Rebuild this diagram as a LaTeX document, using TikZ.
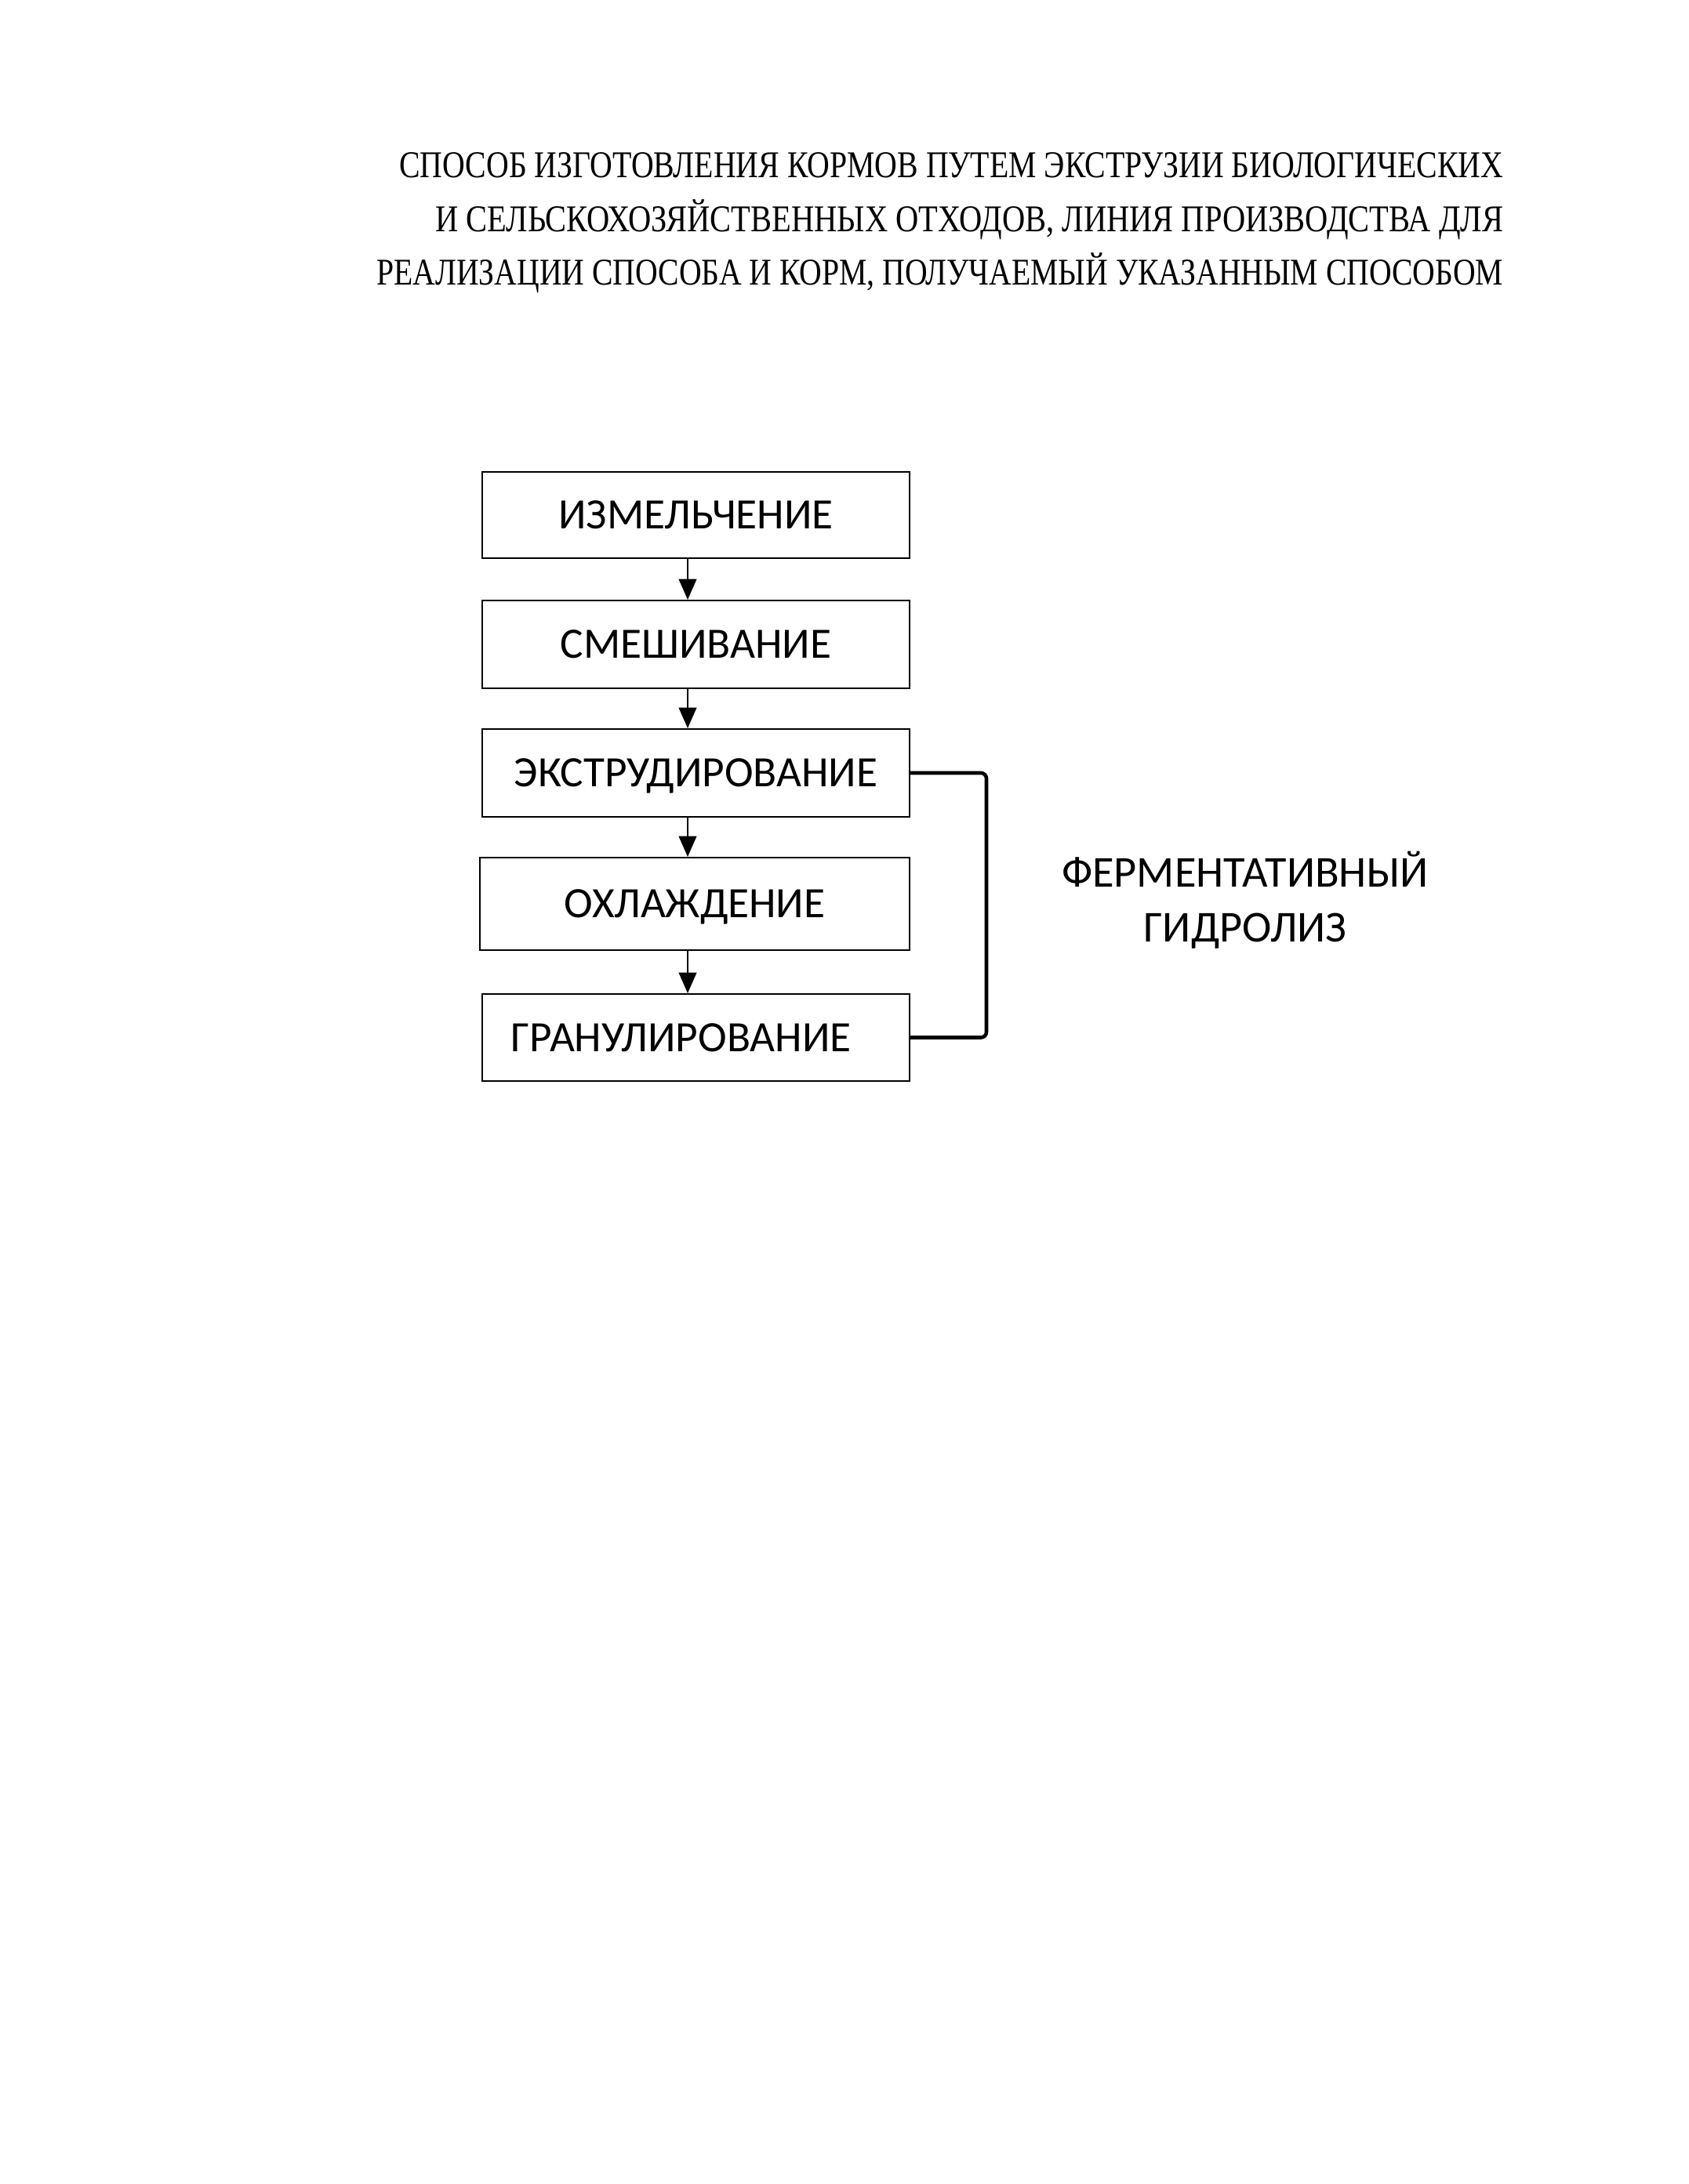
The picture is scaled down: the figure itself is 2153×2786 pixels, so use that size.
\documentclass[tikz,border=0pt]{standalone}
\usepackage{fontspec}
\setmainfont{Liberation Serif}
\newfontfamily\boxfont{Carlito}
\usetikzlibrary{arrows.meta}
\newlength\pxu
\setlength\pxu{0.2842pt}
\begin{document}
\begin{tikzpicture}[x=0.2842pt,y=-0.2842pt,
  stepbox/.style={draw=black, line width=0.6pt, inner sep=0pt, text height=10pt, text depth=0pt,
    font=\boxfont\fontsize{15.7pt}{19pt}\selectfont, minimum width={545*0.2842pt}},
  flowarrow/.style={line width=0.4pt, -{Triangle[width=6.5pt,length=7.5pt]}},
  bracketline/.style={line width=1.3pt, rounded corners=2pt},
  titleline/.style={anchor=base east, inner sep=0pt, font=\fontsize{13.7pt}{16pt}\selectfont},
  sidelabel/.style={align=center, inner sep=0pt, font=\boxfont\fontsize{16pt}{20pt}\selectfont}
]
\useasboundingbox (0,0) rectangle (2153,2786);

% title
\node[titleline] (title1) at (1918,226) {\resizebox{1408\pxu}{\height}{СПОСОБ ИЗГОТОВЛЕНИЯ КОРМОВ ПУТЕМ ЭКСТРУЗИИ БИОЛОГИЧЕСКИХ}};
\node[titleline] (title2) at (1918,295) {\resizebox{1362\pxu}{\height}{И СЕЛЬСКОХОЗЯЙСТВЕННЫХ ОТХОДОВ, ЛИНИЯ ПРОИЗВОДСТВА ДЛЯ}};
\node[titleline] (title3) at (1918,363) {\resizebox{1437\pxu}{\height}{РЕАЛИЗАЦИИ СПОСОБА И КОРМ, ПОЛУЧАЕМЫЙ УКАЗАННЫМ СПОСОБОМ}};

% boxes
\node[stepbox, minimum height={110*0.2842pt}] (b1) at (887.5,657) {ИЗМЕЛЬЧЕНИЕ};
\node[stepbox, minimum height={112*0.2842pt}] (b2) at (887.5,822) {СМЕШИВАНИЕ};
\node[stepbox, minimum height={112*0.2842pt}] (b3) at (887.5,986) {ЭКСТРУДИРОВАНИЕ};
\node[stepbox, minimum height={118*0.2842pt}, minimum width={548*0.2842pt}] (b4) at (886,1153) {ОХЛАЖДЕНИЕ};
\node[stepbox, minimum height={111*0.2842pt}] (b5) at (887.5,1323.5) {ГРАНУЛИРОВАНИЕ\hspace*{38\pxu}};

% arrows
\coordinate (ax) at (877,0);
\draw[flowarrow] (b1.south -| ax) -- (b2.north -| ax);
\draw[flowarrow] (b2.south -| ax) -- (b3.north -| ax);
\draw[flowarrow] (b3.south -| ax) -- (b4.north -| ax);
\draw[flowarrow] (b4.south -| ax) -- (b5.north -| ax);

% bracket
\coordinate (br) at (1258,0);
\draw[bracketline] (b3.east) -- (b3.east -| br) -- (b5.east -| br) -- (b5.east);

% side label
\node[sidelabel] (hyd) at (1588,1148) {ФЕРМЕНТАТИВНЫЙ\\ГИДРОЛИЗ};
\end{tikzpicture}
\end{document}
